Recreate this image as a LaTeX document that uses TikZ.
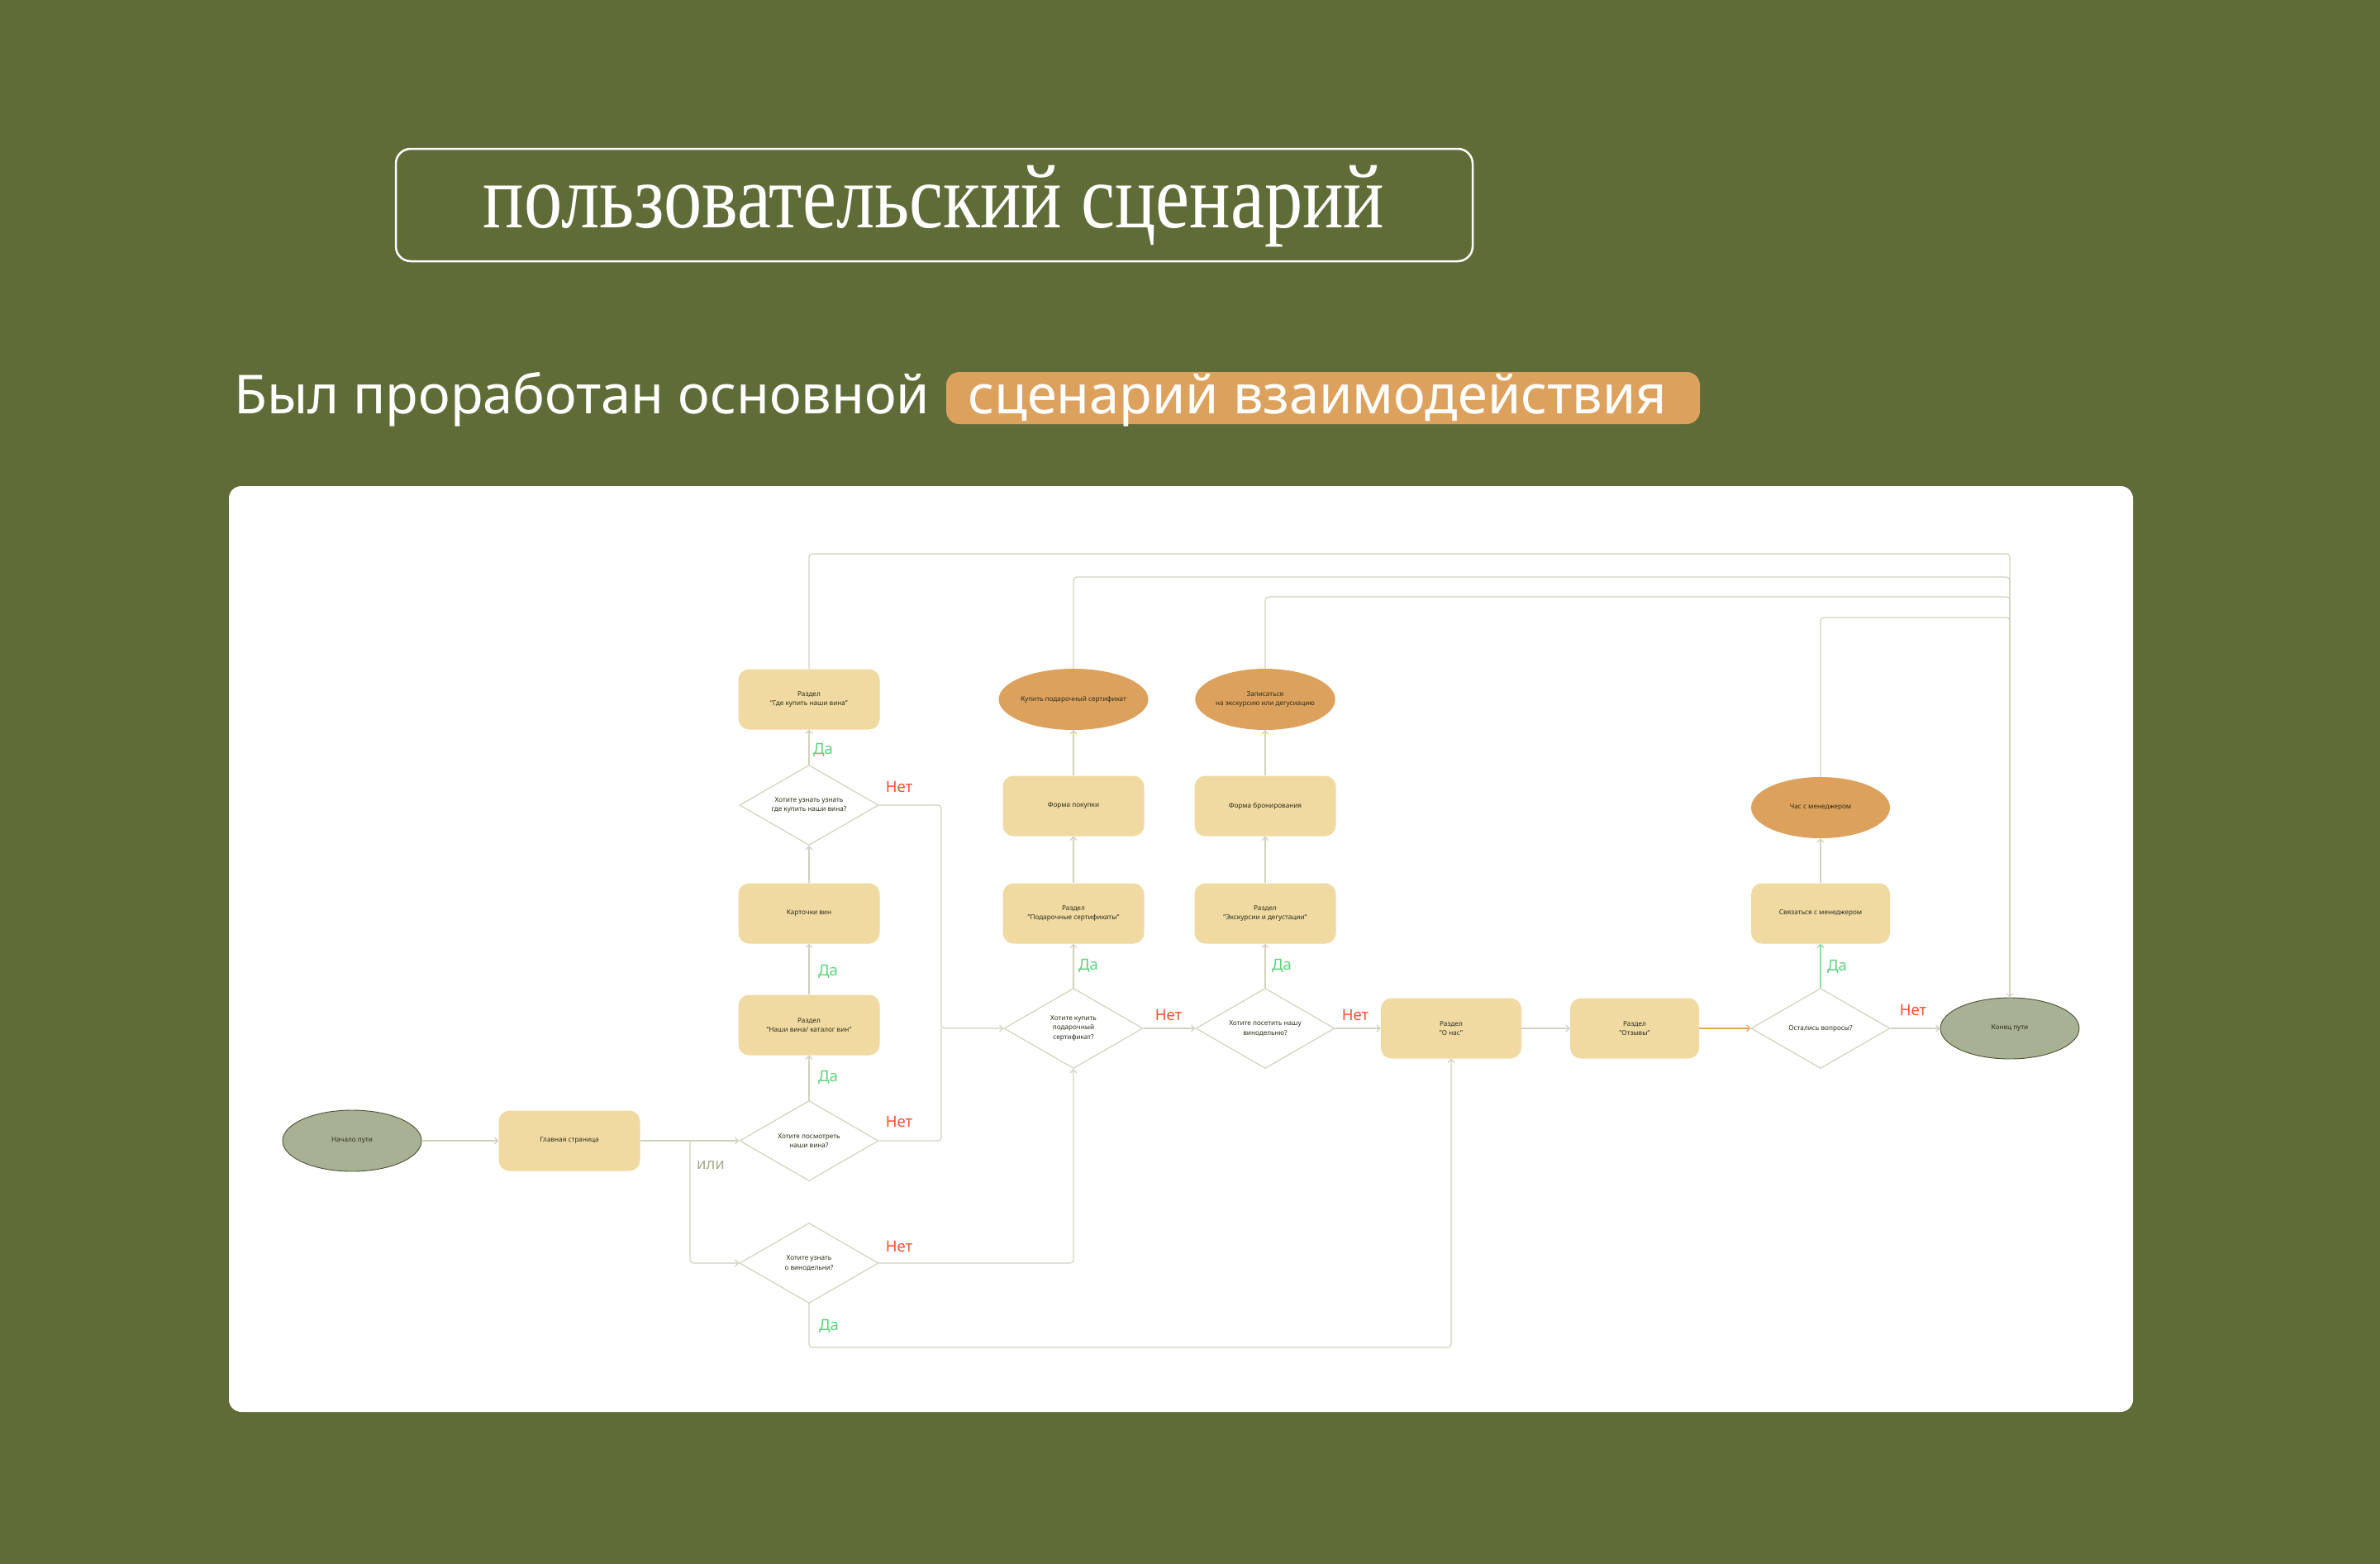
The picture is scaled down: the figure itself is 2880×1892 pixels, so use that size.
\documentclass[tikz,border=0pt]{standalone}
\usepackage{fontspec}
\setmainfont{Noto Sans}
\newfontfamily\titlefont[FakeStretch=0.84]{Liberation Serif}
\usetikzlibrary{shapes.geometric,arrows.meta}
\definecolor{bg}{HTML}{606C38}
\definecolor{boxc}{HTML}{F0DAA2}
\definecolor{orc}{HTML}{DDA15E}
\definecolor{olc}{HTML}{A9B194}
\definecolor{oldk}{HTML}{4B5134}
\definecolor{lc}{HTML}{D3D1BE}
\definecolor{txt}{HTML}{2A2E1C}
\definecolor{yesc}{HTML}{5ED27A}
\definecolor{noc}{HTML}{F2512F}
\definecolor{orl}{HTML}{EFA45C}
\definecolor{grl}{HTML}{86E39A}
\definecolor{orc2}{HTML}{A6AB8D}
\newcommand{\nodef}{\fontsize{8.2}{11.7}\selectfont}
\newcommand{\labf}{\fontsize{18.5}{20}\selectfont}
\begin{document}
\begin{tikzpicture}[x=1pt,y=-1pt,
  box/.style={rectangle, rounded corners=13pt, fill=boxc, minimum width=171pt, minimum height=73pt, inner sep=0pt, align=center, font=\nodef, text=txt},
  oval/.style={ellipse, fill=orc, minimum width=168pt, minimum height=74pt, inner sep=0pt, align=center, font=\nodef, text=txt},
  term/.style={ellipse, fill=olc, draw=oldk, line width=0.9pt, minimum width=168pt, minimum height=74pt, inner sep=0pt, align=center, font=\nodef, text=txt},
  dia/.style={diamond, draw=lc, line width=1.2pt, fill=white, minimum width=168pt, minimum height=97pt, inner sep=0pt, aspect=1.7, align=center, font=\nodef, text=txt},
  conn/.style={draw=lc, line width=1.2pt, rounded corners=4pt},
  arr/.style={conn, -{Straight Barb[length=4pt,width=8pt]}},
  yes/.style={text=yesc, font=\labf, inner sep=0pt},
  no/.style={text=noc, font=\labf, inner sep=0pt}]
\useasboundingbox (0,0) rectangle (2880,1892);
\fill[bg] (0,0) rectangle (2880,1892);

% title
\draw[white, line width=2.5pt, rounded corners=18pt] (479,180) rectangle (1782,316);
\node[anchor=base, text=white, inner sep=0pt, font=\titlefont\fontsize{110}{115}\selectfont] (title) at (1130,275) {пользовательский сценарий};

% subtitle
\fill[orc, rounded corners=16pt] (1145,450) rectangle (2057,513);
\node[anchor=base west, text=white, inner sep=0pt, font=\fontsize{65}{70}\selectfont] (sub1) at (283,500) {Был проработан основной};
\node[anchor=base west, text=white, inner sep=0pt, font=\fontsize{65}{70}\selectfont] (sub2) at (1171,500) {сценарий взаимодействия};

% panel
\fill[white, rounded corners=15pt] (277,588) rectangle (2581,1708);

% nodes
\node[term] (start) at (426,1380) {Начало пути};
\node[box] (main) at (689,1380) {Главная страница};
\node[dia] (d1) at (979,1380) {Хотите посмотреть\\наши вина?};
\node[dia] (d2) at (979,1528) {Хотите узнать\\о винодельни?};
\node[box] (katalog) at (979,1240) {Раздел\\"Наши вина/ каталог вин"};
\node[box] (cards) at (979,1105) {Карточки вин};
\node[dia] (dwhere) at (979,974) {Хотите узнать узнать\\где купить наши вина?};
\node[box] (where) at (979,846) {Раздел\\"Где купить наши вина"};

\node[dia] (dgift) at (1299,1244) {Хотите купить\\подарочный\\сертификат?};
\node[box] (gsec) at (1299,1105) {Раздел\\"Подарочные сертификаты"};
\node[box] (gform) at (1299,975) {Форма покупки};
\node[oval] (gell) at (1299,846) {Купить подарочный сертификат};

\node[dia] (dexc) at (1531,1244) {Хотите посетить нашу\\винодельню?};
\node[box] (esec) at (1531,1105) {Раздел\\"Экскурсии и дегустации"};
\node[box] (eform) at (1531,975) {Форма бронирования};
\node[oval] (eell) at (1531,846) {Записаться\\на экскурсию или дегусиацию};

\node[box, minimum width=170pt] (about) at (1756,1244) {Раздел\\"О нас"};
\node[box, minimum width=156pt] (reviews) at (1978,1244) {Раздел\\"Отзывы"};
\node[dia] (dq) at (2203,1244) {Остались вопросы?};
\node[box, minimum width=168pt] (contact) at (2203,1105) {Связаться с менеджером};
\node[oval] (chat) at (2203,977) {Час с менеджером};
\node[term] (end) at (2432,1244) {Конец пути};

% helper coordinates
\coordinate (br) at (835,1380);
\coordinate (mx) at (1139,1244);
\coordinate (bot) at (979,1630);
\coordinate (t1) at (2432,670);
\coordinate (t2) at (2432,698);
\coordinate (t3) at (2432,722);
\coordinate (t4) at (2432,747);

% connectors
\draw[arr] (start.east) -- (main.west);
\draw[arr] (main.east) -- (d1.west);
\draw[arr] (br) |- (d2.west);
\draw[arr] (d1.north) -- (katalog.south);
\draw[arr] (katalog.north) -- (cards.south);
\draw[arr] (cards.north) -- (dwhere.south);
\draw[arr] (dwhere.north) -- (where.south);
\draw[arr] (dwhere.east) -| (mx) -- (dgift.west);
\draw[conn] (d1.east) -| (mx);
\draw[arr] (d2.east) -| (dgift.south);
\draw[arr] (d2.south) -- (bot) -| (about.south);

\draw[arr] (dgift.north) -- (gsec.south);
\draw[arr] (gsec.north) -- (gform.south);
\draw[arr] (gform.north) -- (gell.south);
\draw[arr] (dgift.east) -- (dexc.west);

\draw[arr] (dexc.north) -- (esec.south);
\draw[arr] (esec.north) -- (eform.south);
\draw[arr] (eform.north) -- (eell.south);
\draw[arr] (dexc.east) -- (about.west);

\draw[arr] (about.east) -- (reviews.west);
\draw[arr, draw=orl] (reviews.east) -- (dq.west);
\draw[arr, draw=grl] (dq.north) -- (contact.south);
\draw[arr] (contact.north) -- (chat.south);
\draw[arr] (dq.east) -- (end.west);

\draw[arr] (where.north) |- (t1) -- (end.north);
\draw[conn] (gell.north) |- (t2) -- (end.north);
\draw[conn] (eell.north) |- (t3) -- (end.north);
\draw[conn] (chat.north) |- (t4) -- (end.north);

% labels
\node[yes] (l1) at (996,907) {Да};
\node[no] (l2) at (1088,952) {Нет};
\node[yes] (l3) at (1002,1175) {Да};
\node[yes] (l4) at (1002,1303) {Да};
\node[no] (l5) at (1088,1357) {Нет};
\node[no] (l6) at (1088,1508) {Нет};
\node[yes] (l7) at (1003,1604) {Да};
\node[text=orc2, font=\labf, inner sep=0pt] (l8) at (860,1410) {или};
\node[yes] (l9) at (1317,1168) {Да};
\node[no] (l10) at (1414,1228) {Нет};
\node[yes] (l11) at (1551,1168) {Да};
\node[no] (l12) at (1640,1228) {Нет};
\node[yes] (l13) at (2223,1169) {Да};
\node[no] (l14) at (2315,1222) {Нет};
\end{tikzpicture}
\end{document}
